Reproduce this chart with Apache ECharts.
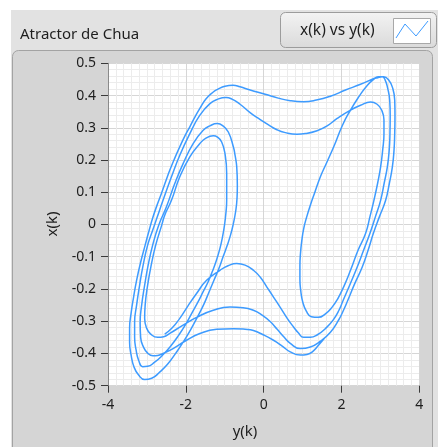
<!DOCTYPE html>
<html>
<head>
<meta charset="utf-8">
<script src="https://cdn.jsdelivr.net/npm/echarts@6/dist/echarts.min.js"></script>
<style>
html,body{margin:0;padding:0;background:#ffffff;}
#chart{width:438px;height:447px;}
</style>
</head>
<body>
<div id="chart"></div>
<script>
// Tick labels
const xTickLabels = ['-4', '-2', '0', '2', '4'];
const yTickLabels = ['-0.5', '-0.4', '-0.3', '-0.2', '-0.1', '0', '0.1', '0.2', '0.3', '0.4', '0.5'];

// Trajectory pieces, each point = [y(k), x(k)]
const bandUpper = [
  [-2.542,-0.340],[-2.361,-0.322],[-2.155,-0.291],[-1.948,-0.253],[-1.724,-0.214],[-1.466,-0.173],
  [-1.123,-0.142],[-0.916,-0.128],[-0.692,-0.121],[-0.477,-0.126],[-0.263,-0.142],[-0.090,-0.163],
  [0.083,-0.194],[0.253,-0.225],[0.426,-0.257],[0.606,-0.291],[0.769,-0.318],[0.890,-0.336],[1.027,-0.350]
];
const rightRiseB = [
  [1.200,-0.350],[1.381,-0.342],[1.613,-0.320],[1.794,-0.295],[1.935,-0.266],[2.044,-0.235],[2.232,-0.182],
  [2.405,-0.132],[2.568,-0.080],[2.730,-0.028],[2.877,0.026],[3.006,0.075],[3.097,0.128],
  [3.179,0.179],[3.226,0.230],[3.246,0.282],[3.252,0.339],[3.239,0.386],[3.187,0.423],[3.123,0.448],[3.050,0.458]
];
const rightInnerLoop = [
  [2.929,0.455],[2.834,0.451],[2.645,0.429],[2.439,0.395],[2.232,0.355],[2.026,0.308],[1.801,0.241],
  [1.613,0.190],[1.458,0.148],[1.316,0.100],[1.200,0.060],[1.105,0.023],[1.032,-0.011],[0.981,-0.049],
  [0.947,-0.089],[0.932,-0.129],[0.932,-0.170],[0.955,-0.207],[1.006,-0.241],[1.097,-0.269],[1.226,-0.286],
  [1.406,-0.288],[1.587,-0.277],[1.755,-0.257],[1.897,-0.232],[2.065,-0.191],[2.232,-0.142],[2.426,-0.080],
  [2.619,-0.028],[2.735,0.026],[2.834,0.075],[2.929,0.128],[3.006,0.179],[3.058,0.230],[3.092,0.282],
  [3.092,0.324],[3.032,0.355],[2.916,0.373],[2.748,0.380]
];
const topBand2 = [
  [2.490,0.370],[2.232,0.355],[1.889,0.329],[1.631,0.306],[1.373,0.291],[1.071,0.282],[0.857,0.280],
  [0.555,0.285],[0.341,0.294],[0.116,0.310],[-0.142,0.330],[-0.348,0.347],[-0.606,0.373],[-0.813,0.389],
  [-0.968,0.394],[-1.174,0.389],[-1.381,0.375]
];
const leftSecond = [
  [-1.639,0.339],[-1.897,0.282],[-2.155,0.215],[-2.369,0.148],[-2.586,0.075],[-2.735,0.023],[-2.852,-0.018],
  [-2.981,-0.064],[-3.097,-0.126],[-3.187,-0.188],[-3.265,-0.250],[-3.316,-0.303],[-3.316,-0.350],
  [-3.277,-0.390],[-3.213,-0.421],[-3.110,-0.441]
];
const leftLoop4 = [
  [-2.981,-0.440],[-2.800,-0.427],[-2.594,-0.405],[-2.387,-0.377],[-2.181,-0.343],[-2.000,-0.309],
  [-1.845,-0.275],[-1.690,-0.241],[-1.561,-0.210],[-1.432,-0.179],[-1.316,-0.145],[-1.213,-0.111],
  [-1.123,-0.074],[-1.058,-0.039],[-1.006,-0.002],[-0.968,0.038],[-0.950,0.075],[-0.950,0.122],
  [-0.950,0.158],[-0.994,0.220],[-1.079,0.256],[-1.187,0.271],[-1.295,0.275],[-1.484,0.268],
  [-1.639,0.251],[-1.897,0.210],[-2.155,0.148],[-2.369,0.075],[-2.542,0.029],[-2.619,-0.002],
  [-2.774,-0.064],[-2.890,-0.126],[-2.981,-0.188],[-3.045,-0.250],[-3.058,-0.291],[-3.006,-0.322],
  [-2.903,-0.340],[-2.723,-0.350]
];
const bandMiddle = [
  [-2.568,-0.348],[-2.413,-0.338],[-2.070,-0.312],[-1.724,-0.288],[-1.295,-0.266],[-0.865,-0.256],
  [-0.529,-0.258],[-0.263,-0.266],[-0.039,-0.281],[0.168,-0.301],[0.348,-0.325],[0.529,-0.350],
  [0.684,-0.369],[0.942,-0.385]
];
const rightRiseC = [
  [1.200,-0.380],[1.458,-0.362],[1.716,-0.334],[1.923,-0.297],[2.052,-0.266],[2.163,-0.235],
  [2.335,-0.185],[2.534,-0.132],[2.684,-0.080],[2.818,-0.028],[2.981,0.026],[3.135,0.075],
  [3.231,0.128],[3.308,0.179],[3.350,0.230],[3.368,0.282],[3.375,0.339],[3.368,0.386],[3.316,0.423],
  [3.213,0.448],[3.084,0.458],[2.955,0.458]
];
const topBand1 = [
  [2.834,0.453],[2.490,0.435],[2.103,0.417],[1.716,0.398],[1.355,0.386],[1.019,0.381],[0.684,0.384],
  [0.374,0.392],[0.039,0.404],[-0.348,0.417],[-0.606,0.427],[-0.787,0.432],[-0.994,0.429],
  [-1.174,0.420],[-1.295,0.411]
];
const leftOuter = [
  [-1.484,0.389],[-1.639,0.360],[-1.768,0.333],[-1.897,0.303],[-2.026,0.274],[-2.155,0.241],
  [-2.284,0.206],[-2.413,0.168],[-2.516,0.134],[-2.627,0.096],[-2.748,0.057],[-2.852,0.020],
  [-2.942,-0.018],[-3.045,-0.064],[-3.161,-0.117],[-3.265,-0.173],[-3.342,-0.225],[-3.406,-0.275],
  [-3.445,-0.322],[-3.445,-0.365],[-3.406,-0.405],[-3.329,-0.443],[-3.213,-0.467],[-3.058,-0.481]
];
const leftLoop3 = [
  [-2.877,-0.477],[-2.671,-0.458],[-2.465,-0.433],[-2.258,-0.399],[-2.052,-0.362],[-1.871,-0.325],
  [-1.690,-0.284],[-1.535,-0.247],[-1.406,-0.210],[-1.277,-0.173],[-1.148,-0.136],[-1.045,-0.101],
  [-0.942,-0.067],[-0.852,-0.033],[-0.787,-0.002],[-0.723,0.038],[-0.684,0.082],[-0.676,0.122],
  [-0.692,0.179],[-0.735,0.215],[-0.779,0.241],[-0.908,0.287],[-1.045,0.306],[-1.192,0.313],
  [-1.381,0.306],[-1.554,0.292],[-1.812,0.251],[-2.070,0.189],[-2.284,0.127],[-2.498,0.055],
  [-2.697,-0.002],[-2.852,-0.064],[-2.968,-0.126],[-3.058,-0.188],[-3.135,-0.250],[-3.174,-0.303],
  [-3.161,-0.350],[-3.084,-0.381],[-2.981,-0.399],[-2.844,-0.407]
];
const bandLower = [
  [-2.723,-0.406],[-2.586,-0.400],[-2.328,-0.385],[-1.982,-0.359],[-1.639,-0.338],[-1.208,-0.325],
  [-0.779,-0.323],[-0.477,-0.325],[-0.263,-0.329],[-0.013,-0.342],[0.253,-0.359],[0.477,-0.377],
  [0.684,-0.395],[0.942,-0.405],[1.115,-0.403],[1.252,-0.395],[1.414,-0.374],[1.561,-0.353]
];

const trajectory = [].concat(
  bandUpper, rightRiseB, rightInnerLoop, topBand2, leftSecond, leftLoop4,
  bandMiddle, rightRiseC, topBand1, leftOuter, leftLoop3, bandLower
);

const FONT = '"Noto Sans", "Open Sans", sans-serif';
const TXT = '#1e1e1e';
const chart = echarts.init(document.getElementById('chart'), null, {renderer: 'canvas'});

const option = {
  animation: false,
  backgroundColor: '#ffffff',
  grid: {left: 108, right: 18.7, top: 63.3, bottom: 61.3, show: true, backgroundColor: '#ffffff', borderWidth: 0},
  xAxis: {
    type: 'value', min: -4, max: 4, interval: 2,
    axisLine: {show: false, onZero: false},
    axisTick: {show: true, length: 7, lineStyle: {color: '#3a3a3a', width: 1}},
    axisLabel: {
      margin: 12, fontSize: 14, fontFamily: FONT, color: TXT,
      formatter: function (v) { return xTickLabels[Math.round((v + 4) / 2)]; }
    },
    splitLine: {show: true, lineStyle: {color: '#d6d6d6', width: 1}},
    minorTick: {show: false, splitNumber: 10},
    minorSplitLine: {show: true, lineStyle: {color: '#ececec', width: 1}}
  },
  yAxis: {
    type: 'value', min: -0.5, max: 0.5, interval: 0.1,
    axisLine: {show: true, onZero: false, lineStyle: {color: '#8a8a8a', width: 1}},
    axisTick: {show: true, length: 7, lineStyle: {color: '#3a3a3a', width: 1}},
    axisLabel: {
      margin: 12, fontSize: 14, fontFamily: FONT, color: TXT,
      formatter: function (v) { return yTickLabels[Math.round((v + 0.5) * 10)]; }
    },
    splitLine: {show: true, lineStyle: {color: '#d6d6d6', width: 1}},
    minorTick: {show: false, splitNumber: 5},
    minorSplitLine: {show: true, lineStyle: {color: '#ececec', width: 1}}
  },
  graphic: [
    {type: 'rect', z: -10, shape: {x: 11, y: 10, width: 427, height: 437}, style: {fill: '#e2e2e2'}},
    {type: 'rect', z: -9, shape: {x: 12.5, y: 50.5, width: 420, height: 420, r: 6},
      style: {fill: '#d5d5d5', stroke: '#a3a3a3', lineWidth: 1}},
    {type: 'text', z: 100, x: 20, y: 35,
      style: {text: 'Atractor de Chua', fill: TXT, font: '15px ' + FONT, verticalAlign: 'middle', align: 'left'}},
    {type: 'rect', z: 100, shape: {x: 280.5, y: 12.5, width: 156, height: 35, r: 5},
      style: {
        fill: new echarts.graphic.LinearGradient(0, 0, 0, 1, [{offset: 0, color: '#f3f3f3'}, {offset: 1, color: '#dadada'}]),
        stroke: '#9c9c9c', lineWidth: 1
      }},
    {type: 'text', z: 101, x: 300, y: 31,
      style: {text: 'x(k) vs y(k)', fill: TXT, font: '15.5px ' + FONT, verticalAlign: 'middle', align: 'left'}},
    {type: 'rect', z: 101, shape: {x: 393.5, y: 18.5, width: 37, height: 25},
      style: {fill: '#ffffff', stroke: '#a8a8a8', lineWidth: 1}},
    {type: 'polyline', z: 102, shape: {points: [[396, 38], [405, 24], [416, 36], [428, 21]]},
      style: {stroke: '#3d9bff', lineWidth: 1, fill: null}},
    {type: 'text', z: 100, x: 245, y: 432,
      style: {text: 'y(k)', fill: TXT, font: '15px ' + FONT, verticalAlign: 'middle', align: 'center'}},
    {type: 'text', z: 100, x: 53, y: 224, rotation: Math.PI / 2,
      style: {text: 'x(k)', fill: TXT, font: '15px ' + FONT, verticalAlign: 'middle', align: 'center'}}
  ],
  series: [{
    name: 'x(k) vs y(k)', type: 'line', data: trajectory,
    showSymbol: false, symbol: 'none', smooth: 0.5, clip: true, z: 5,
    lineStyle: {color: '#3d9bff', width: 1.5}
  }]
};
chart.setOption(option);
</script>
</body>
</html>
